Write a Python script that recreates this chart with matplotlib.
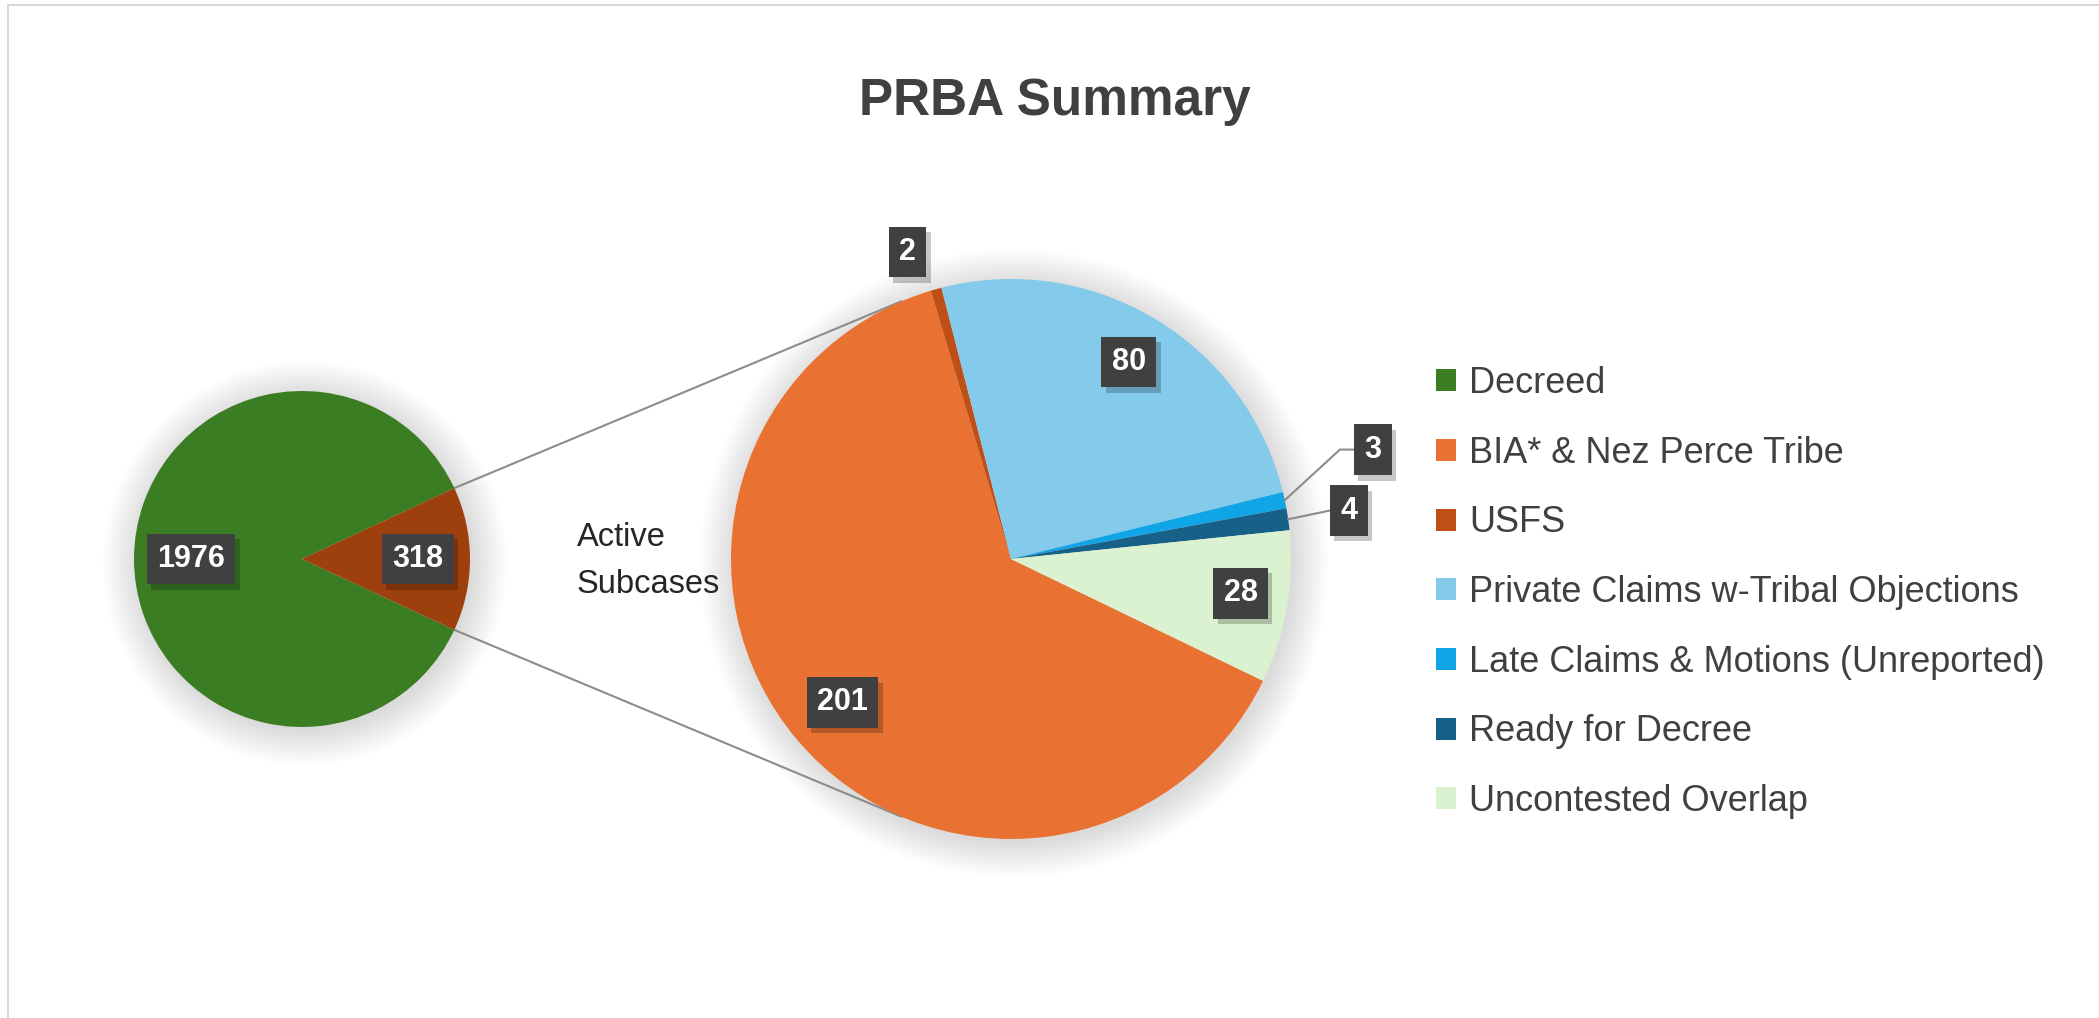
import matplotlib
matplotlib.use('Agg')
import matplotlib.pyplot as plt
import numpy as np
from matplotlib.patches import Patch, Circle
import matplotlib.patheffects as pe

plt.rcParams['font.family'] = ['Liberation Sans', 'DejaVu Sans']

# ---------------- data ----------------
title = "PRBA Summary"
main_labels = ["Decreed", "Active Subcases"]
main_values = [1976, 318]
sub_labels = ["BIA* & Nez Perce Tribe", "USFS", "Private Claims w-Tribal Objections",
              "Late Claims & Motions (Unreported)", "Ready for Decree", "Uncontested Overlap"]
sub_values = [201, 2, 80, 3, 4, 28]

main_colors = ["#3B7D23", "#9E3F0E"]
sub_colors = ["#E97132", "#C04F15", "#83CAEB", "#0FA5E6", "#176188", "#DAF2D0"]

# ---------------- layout ----------------
W, H = 2099, 1018
fig = plt.figure(figsize=(W / 100, H / 100), dpi=100)
fig.patch.set_facecolor('white')
ax = fig.add_axes([0, 0, 1, 1])

main_c = (302, 459)
main_r = 168
sub_c = (1011, 459)
sub_r = 280
sub_start = -25.8


def soft_shadow(c, r):
    for k in range(18):
        ax.add_patch(Circle((c[0] + 3, c[1] - 4), r + 2 * k, fc='black', ec='none',
                            alpha=0.007, zorder=0))


soft_shadow(main_c, main_r)
soft_shadow(sub_c, sub_r)

main_start = 180.0 * main_values[1] / sum(main_values)
wm, _ = ax.pie(main_values, colors=main_colors, startangle=main_start, counterclock=True,
               center=main_c, radius=main_r, wedgeprops=dict(linewidth=0))
ws, _ = ax.pie(sub_values, colors=sub_colors, startangle=sub_start, counterclock=False,
               center=sub_c, radius=sub_r, wedgeprops=dict(linewidth=0))

ax.set_xlim(0, W)
ax.set_ylim(0, H)
ax.set_aspect('equal')
ax.axis('off')


def polar(c, r, ang):
    a = np.deg2rad(ang)
    return c[0] + r * np.cos(a), c[1] + r * np.sin(a)


# connector lines
pt_main_top = polar(main_c, main_r, wm[1].theta2)
pt_main_bot = polar(main_c, main_r, wm[1].theta1)
pt_sub_top = polar(sub_c, sub_r, 113)
pt_sub_bot = polar(sub_c, sub_r, -113)
for p, q in [(pt_main_top, pt_sub_top), (pt_main_bot, pt_sub_bot)]:
    ax.plot([p[0], q[0]], [p[1], q[1]], color='#8C8C8C', lw=1.5, zorder=0.5,
            solid_capstyle='round')

box_fx = [pe.SimplePatchShadow(offset=(3, -4), shadow_rgbFace='black', alpha=0.22), pe.Normal()]


def data_label(x, y, s):
    return ax.text(x, y, s, ha='center', va='center', fontsize=22, fontweight='bold',
                   color='white', zorder=6,
                   bbox=dict(boxstyle='square,pad=0.34', fc='#404040', ec='none',
                             path_effects=box_fx))


def wedge_mid(w):
    return 0.5 * (w.theta1 + w.theta2)


# main pie labels
main_frac = [0.66, 0.69]
for w, v, f in zip(wm, main_values, main_frac):
    x, y = polar(main_c, main_r * f, wedge_mid(w))
    data_label(x, y, str(v))

# sub pie labels: (radial fraction, angle shift)
sub_pos = [(0.79, 0.0), (1.157, 3.1), (0.82, 0.0), (1.35, 4.7), (1.22, 0.0), (0.83, 1.5)]
sub_texts = []
for w, v, (f, da) in zip(ws, sub_values, sub_pos):
    x, y = polar(sub_c, sub_r * f, wedge_mid(w) + da)
    sub_texts.append(data_label(x, y, str(v)))

ax.text(577, 457, "Active\nSubcases", ha='left', va='center', fontsize=23.5,
        color='#262626', linespacing=1.7, zorder=6)

ax.text(1055, H - 101, title, ha='center', va='center', fontsize=37, fontweight='bold',
        color='#404040')

handles = [Patch(facecolor=c, edgecolor='none') for c in [main_colors[0]] + sub_colors]
labels = [main_labels[0]] + sub_labels
ax.legend(handles, labels, loc='upper left', bbox_to_anchor=(1436, H - 366),
          bbox_transform=ax.transData, frameon=False, fontsize=26, handlelength=0.56,
          handleheight=0.56, handletextpad=0.36, labelspacing=0.96, borderpad=0,
          borderaxespad=0, labelcolor='#404040')

# leader lines for "3" and "4"
fig.canvas.draw()
renderer = fig.canvas.get_renderer()
for idx, elbow in [(3, True), (4, False)]:
    t = sub_texts[idx]
    bb = t.get_bbox_patch().get_window_extent(renderer)
    x_end, y_end = bb.x0, 0.5 * (bb.y0 + bb.y1)
    sx, sy = polar(sub_c, sub_r, wedge_mid(ws[idx]))
    if elbow:
        xs = [sx, x_end - 14, x_end]
        ys = [sy, y_end, y_end]
    else:
        xs = [sx, x_end]
        ys = [sy, y_end]
    ax.plot(xs, ys, color='#8C8C8C', lw=1.5, zorder=5)

# chart border (top and left visible)
ax.plot([8, 8], [0, H - 5], color='#D9D9D9', lw=1.5, zorder=0)
ax.plot([8, W], [H - 5, H - 5], color='#D9D9D9', lw=1.5, zorder=0)

fig.savefig('out.png', dpi=100, facecolor='white')
